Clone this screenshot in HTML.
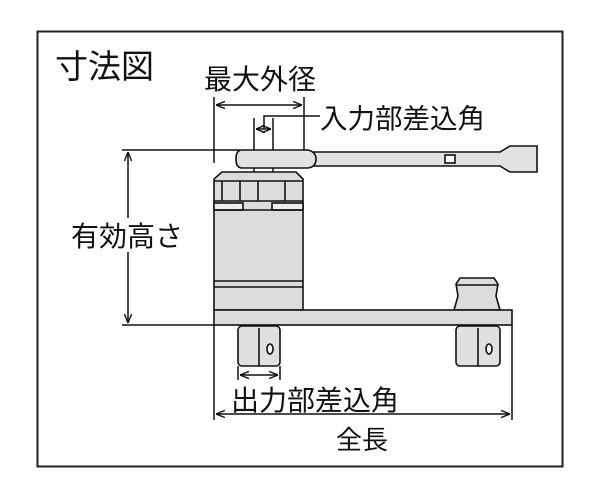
<!DOCTYPE html>
<html><head><meta charset="utf-8"><style>
html,body{margin:0;padding:0;background:#fff;}
svg{display:block}
text{font-family:"Liberation Sans","Noto Sans CJK JP",sans-serif;fill:#111}
</style></head><body>
<svg width="600" height="500" viewBox="0 0 600 500" xmlns="http://www.w3.org/2000/svg">
<defs>
<marker id="a" viewBox="0 0 10 10" refX="10" refY="5" markerWidth="9" markerHeight="9" orient="auto-start-reverse" markerUnits="userSpaceOnUse"><path d="M0,1 L10,5 L0,9" fill="none" stroke="#111" stroke-width="1.5"/></marker>
</defs>
<rect x="37.5" y="31.5" width="525" height="435" fill="#fff" stroke="#222" stroke-width="2"/>
<text x="55" y="78" font-size="33">寸法図</text>
<text x="204" y="89" font-size="28">最大外径</text>
<text x="320" y="128" font-size="27.5">入力部差込角</text>
<text x="231" y="410" font-size="28">出力部差込角</text>
<text x="336" y="449" font-size="26">全長</text>

<g stroke="#111" stroke-width="1.5" fill="none">
<line x1="214" y1="97" x2="214" y2="163"/>
<line x1="304" y1="97" x2="304" y2="160"/>
<line x1="216" y1="105" x2="302" y2="105" marker-start="url(#a)" marker-end="url(#a)"/>
<line x1="254" y1="118" x2="254" y2="172"/>
<line x1="273" y1="118" x2="273" y2="172"/>
<polyline points="264,129 264,116 320,116"/>
<line x1="256" y1="129" x2="271" y2="129" marker-start="url(#a)" marker-end="url(#a)"/>
<line x1="122" y1="150" x2="240" y2="150"/>
<line x1="122" y1="325" x2="214" y2="325"/>
<line x1="128" y1="152" x2="128" y2="323" marker-start="url(#a)" marker-end="url(#a)"/>
</g>
<rect x="68" y="218" width="122" height="34" fill="#fff"/>
<text x="71" y="246" font-size="28">有効高さ</text>

<g stroke="#111" stroke-width="1.6">
<path d="M310,152 L500,152 L510,146 L537,146 L537,172 L510,172 L500,166 L310,166 Z" fill="#e2e2e2"/>
<rect x="445" y="155" width="10" height="8" fill="#fff"/>
<path d="M242,150 L308,150 Q316,152 316,159 Q316,167 308,168 L242,168 Q236,168 236,159 Q236,150 242,150 Z" fill="#e2e2e2"/>
<path d="M222,172 L296,172 L303,179 L303,310 L214,310 L214,179 Z" fill="#dcdcdc"/>
<line x1="214" y1="181" x2="303" y2="181"/>
<line x1="214" y1="201" x2="303" y2="201"/>
<line x1="222" y1="181" x2="222" y2="201"/>
<line x1="240" y1="181" x2="240" y2="201"/>
<line x1="258" y1="181" x2="258" y2="201"/>
<line x1="285" y1="181" x2="285" y2="201"/>
<rect x="214" y="203" width="29" height="7" fill="#eee"/>
<rect x="272" y="203" width="31" height="7" fill="#eee"/>
<line x1="214" y1="210" x2="303" y2="210"/>
<line x1="214" y1="281" x2="303" y2="281"/>
<line x1="214" y1="287" x2="303" y2="287"/>
<path d="M460,278 L494,278 L498,284 L496,296 L500,310 L454,310 L458,296 L456,284 Z" fill="#dcdcdc"/>
<line x1="456" y1="285" x2="498" y2="285"/>
<rect x="214" y="310" width="298" height="15" fill="#dcdcdc"/>
<rect x="238" y="326" width="42" height="40" rx="4" fill="#e0e0e0"/>
<line x1="259" y1="328" x2="259" y2="366"/>
<ellipse cx="270" cy="349" rx="3" ry="5" fill="#fff"/>
<rect x="456" y="326" width="44" height="40" rx="4" fill="#e0e0e0"/>
<line x1="478" y1="328" x2="478" y2="366"/>
<ellipse cx="489" cy="349" rx="3" ry="5" fill="#fff"/>
</g>
<g stroke="#111" stroke-width="1.5" fill="none">
<line x1="238" y1="366" x2="238" y2="380"/>
<line x1="280" y1="366" x2="280" y2="380"/>
<line x1="240" y1="375" x2="278" y2="375" marker-start="url(#a)" marker-end="url(#a)"/>
<line x1="214" y1="325" x2="214" y2="420"/>
<line x1="512" y1="325" x2="512" y2="420"/>
<line x1="216" y1="414" x2="510" y2="414" marker-start="url(#a)" marker-end="url(#a)"/>
</g>
</svg>
</body></html>
